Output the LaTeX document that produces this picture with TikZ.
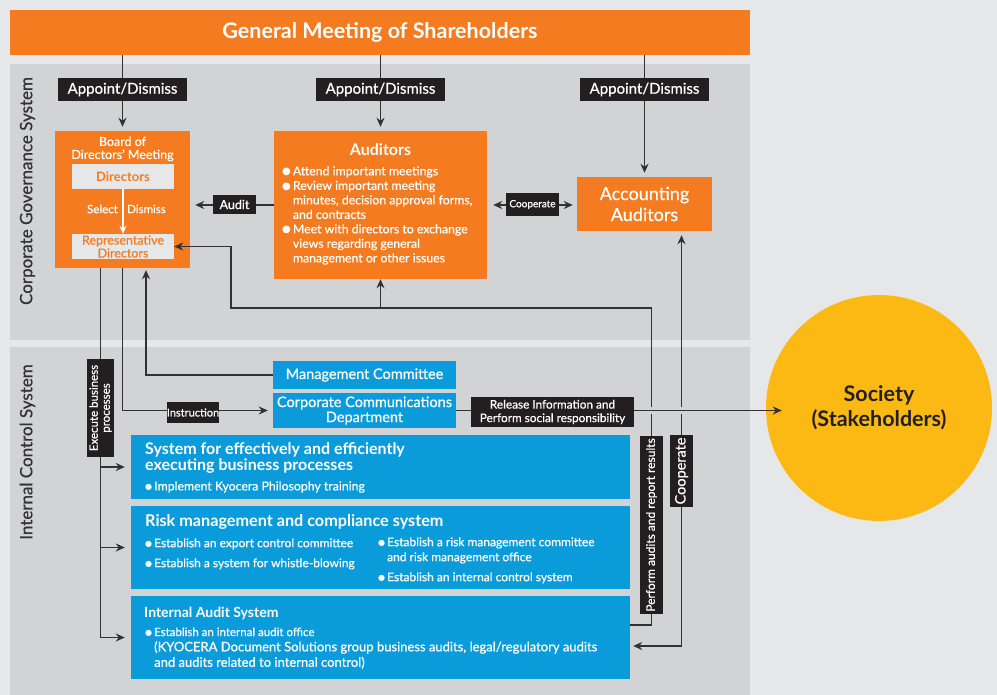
\documentclass[tikz,border=0pt]{standalone}
\usepackage{fontspec}
\setmainfont{Lato}[UprightFeatures={FakeBold=0.6}]
\newfontfamily\symfont{DejaVu Sans}
\usepackage{tikz}
\usetikzlibrary{arrows.meta,positioning}
\definecolor{kbg}{HTML}{E6E7E8}
\definecolor{kpanel}{HTML}{D1D3D4}
\definecolor{korange}{HTML}{F47B20}
\definecolor{kblue}{HTML}{0A9CDA}
\definecolor{kyellow}{HTML}{FDB913}
\definecolor{klabel}{HTML}{231F20}
\definecolor{kline}{HTML}{333132}
\newcommand{\fsz}[2]{\fontsize{#1}{#2}\selectfont}
\newcommand{\bul}[1][10]{\raisebox{0.6pt}{\symfont\fontsize{#1}{#1}\selectfont ●}}

\begin{document}
\begin{tikzpicture}[
    x=1pt, y=-1pt,
    >=Stealth,
    orgbox/.style={rectangle, fill=korange, text=white, inner sep=0pt},
    bluebox/.style={rectangle, fill=kblue, text=white, inner sep=0pt},
    greybox/.style={
        rectangle,
        fill=kbg,
        text=korange,
        inner sep=0pt,
        minimum width=102pt,
        minimum height=25pt
    },
    tag/.style={rectangle, fill=klabel, text=white, inner sep=0pt},
    txt/.style={inner sep=0pt, text=white, align=left},
    link/.style={draw=kline, line width=1.6pt},
    arr/.style={link, -{Stealth[length=9pt,width=8pt]}},
    darr/.style={link, {Stealth[length=9pt,width=8pt]}-{Stealth[length=9pt,width=8pt]}}
]
    \useasboundingbox (0,0) rectangle (997,695);
    \fill[kbg] (0,0) rectangle (997,695);

    % === PANELS ===
    \fill[kpanel] (10,64) rectangle (750,340);
    \fill[kpanel] (10,347) rectangle (750,695);
    \node[rotate=90, text=kline, font=\fsz{17}{18}] (cgs) at (27.5,191) {Corporate Governance System};
    \node[rotate=90, text=kline, font=\fsz{17}{18}] (ics) at (27.5,452) {Internal Control System};

    % Title
    \node[orgbox, minimum width=740pt, minimum height=45pt, font=\bfseries\fsz{21.5}{23}] (gm) at (380,32.5) {General Meeting of Shareholders};

    % === CORPORATE GOVERNANCE ===
    \node[orgbox, minimum width=135pt, minimum height=137pt] (board) at (122.5,199.5) {};
    \node[txt, align=center, font=\fsz{12.5}{13}] (boardtitle) at (122.5,149) {Board of\\Directors' Meeting};
    \node[greybox, font=\bfseries\fsz{13}{14}] (dir) at (123,176.5) {Directors};
    \node[greybox, align=center, font=\fsz{12.5}{13}] (rep) at (123,246.5) {Representative\\Directors};
    \draw[white, line width=1.4pt, -{Stealth[length=8pt,width=7pt]}] (dir) -- (rep);
    \node[txt, anchor=east, font=\fsz{11.5}{12}] (sel) at (118,209) {Select};
    \node[txt, anchor=west, font=\fsz{11.5}{12}] (dism) at (127,209) {Dismiss};

    \node[orgbox, minimum width=213pt, minimum height=148pt] (aud) at (380.5,205) {};
    \node[txt, font=\bfseries\fsz{16}{17}] (audtitle) at (380.5,150) {Auditors};
    \node[txt, anchor=north west, font=\fsz{12.3}{14.5}] (audlist) at (282,165) {%
        \begin{tabular}{@{}l@{\hspace{2pt}}l@{}}
        \bul & Attend important meetings\\
        \bul & Review important meeting\\
             & minutes, decision approval forms,\\
             & and contracts\\
        \bul & Meet with directors to exchange\\
             & views regarding general\\
             & management or other issues
        \end{tabular}};

    \node[orgbox, minimum width=135pt, minimum height=54pt, align=center, font=\fsz{18}{21}] (acc) at (644.5,204) {Accounting\\Auditors};

    % === INTERNAL CONTROL ===
    \node[bluebox, minimum width=183pt, minimum height=28pt, font=\fsz{14.5}{15}] (mc) at (364.5,375) {Management Committee};
    \node[bluebox, minimum width=183pt, minimum height=35pt, align=center, font=\fsz{14.5}{15}] (ccd) at (364.5,410.5) {Corporate Communications\\Department};

    \node[bluebox, minimum width=499pt, minimum height=64pt] (sys) at (380.5,467) {};
    \node[txt, anchor=north west, font=\bfseries\fsz{16}{16}] (systitle) at (145,442) {System for effectively and efficiently\\executing business processes};
    \node[txt, anchor=west, font=\fsz{12.3}{13}] (sysitem) at (145,487) {\bul[8]\,Implement Kyocera Philosophy training};

    \node[bluebox, minimum width=499pt, minimum height=83pt] (risk) at (380.5,547.5) {};
    \node[txt, anchor=west, font=\bfseries\fsz{16.2}{17}] (risktitle) at (145,522) {Risk management and compliance system};
    \node[txt, anchor=north west, font=\fsz{12}{20}] (riskleft) at (145,533) {%
        \begin{tabular}{@{}l@{\hspace{2pt}}l@{}}
        \bul[8] & Establish an export control committee\\
        \bul[8] & Establish a system for whistle-blowing
        \end{tabular}};
    \node[txt, anchor=north west, font=\fsz{12}{15}] (riskright) at (378,535.5) {%
        \begin{tabular}{@{}l@{\hspace{2pt}}l@{}}
        \bul[8] & Establish a risk management committee\\
                & and risk management office\\[5pt]
        \bul[8] & Establish an internal control system
        \end{tabular}};

    \node[bluebox, minimum width=499pt, minimum height=83pt] (ias) at (380.5,637.5) {};
    \node[txt, anchor=west, font=\bfseries\fsz{14}{15}] (iastitle) at (144,613) {Internal Audit System};
    \node[txt, anchor=west, font=\fsz{11.5}{12}] (iasitem) at (145,632) {\bul[8]\,Establish an internal audit office};
    \node[txt, anchor=north west, font=\fsz{13}{15.5}] (iasnote) at (154,641) {(KYOCERA Document Solutions group business audits, legal/regulatory audits\\and audits related to internal control)};

    % Society
    \node[circle, fill=kyellow, minimum size=226pt, inner sep=0pt, align=center, text=klabel, font=\bfseries\fsz{21.5}{25}] (soc) at (879,408) {Society\\(Stakeholders)};

    % === CONNECTORS ===
    \draw[arr, shorten >=4pt] (gm.south -| board.north) -- (board.north);
    \draw[arr, shorten >=4pt] (gm.south -| aud.north) -- (aud.north);
    \draw[arr, shorten >=4pt] (gm.south -| acc.north) -- (acc.north);
    \draw[arr, shorten >=5pt] (aud.west) -- (aud.west -| board.east);
    \draw[darr, shorten <=6pt, shorten >=4pt] (aud.east) -- (aud.east -| acc.west);

    % audits and report results
    \coordinate (pa) at (651.5,625);
    \coordinate (pb) at (651.5,308);
    \coordinate (pc) at (231,308);
    \draw[arr] (ias.east |- pa) -- (pa) -- (pb) -- (pc) |- (rep.east);
    \draw[arr] (aud.south |- pb) -- (aud.south);

    % cooperate with accounting auditors
    \coordinate (cb) at (681.5,646);
    \draw[darr, shorten <=4pt, shorten >=3pt] (cb |- acc.south) -- (cb) -- (ias.east |- cb);

    % release information
    \draw[kpanel, line width=7pt] ([xshift=-8pt]pb |- ccd.east) -- ([xshift=8pt]cb |- ccd.east);
    \coordinate (socin) at ([xshift=16pt]soc.west);
    \draw[arr] (ccd.east) -- (socin |- ccd.east);

    % board to internal control
    \coordinate (exel) at (100.5,0);
    \draw[arr, shorten >=6pt] (board.south -| exel) |- (sys.west);
    \draw[arr, shorten >=6pt] (board.south -| exel) |- (risk.west);
    \draw[arr, shorten >=6pt] (board.south -| exel) |- (ias.west);
    \draw[arr, shorten >=5pt] (board.south) |- (ccd.west);
    \draw[arr, shorten >=2pt] (mc.west) -| ([xshift=23.5pt]board.south);

    % === TAGS ===
    \node[tag, minimum width=129pt, minimum height=23pt, font=\fsz{15}{16}] (ad1) at (122.5,89.5) {Appoint/Dismiss};
    \node[tag, minimum width=129pt, minimum height=23pt, font=\fsz{15}{16}] (ad2) at (380.5,89.5) {Appoint/Dismiss};
    \node[tag, minimum width=129pt, minimum height=23pt, font=\fsz{15}{16}] (ad3) at (644.5,89.5) {Appoint/Dismiss};
    \node[tag, minimum width=43pt, minimum height=19pt, font=\fsz{12.5}{13}] (audittag) at (234.5,204.5) {Audit};
    \node[tag, minimum width=53pt, minimum height=23pt, font=\fsz{10}{11}] (coop1) at (532.5,204.5) {Cooperate};
    \node[tag, minimum width=52pt, minimum height=21pt, font=\fsz{11}{12}] (instr) at (193,412.5) {Instruction};
    \node[tag, minimum width=163pt, minimum height=30pt, align=center, font=\fsz{11.8}{13.5}] (rel) at (552.5,412) {Release Information and\\Perform social responsibility};
    \node[tag, rotate=90, minimum width=98pt, minimum height=27pt, align=center, font=\fsz{11.5}{12}] (exe) at (100.5,408) {Execute business\\processes};
    \node[tag, rotate=90, minimum width=178pt, minimum height=23pt, font=\fsz{12}{13}] (perf) at (651.5,525) {Perform audits and report results};
    \node[tag, rotate=90, minimum width=72pt, minimum height=23pt, font=\fsz{14.5}{15}] (coop2) at (681.5,471) {Cooperate};
\end{tikzpicture}
\end{document}
